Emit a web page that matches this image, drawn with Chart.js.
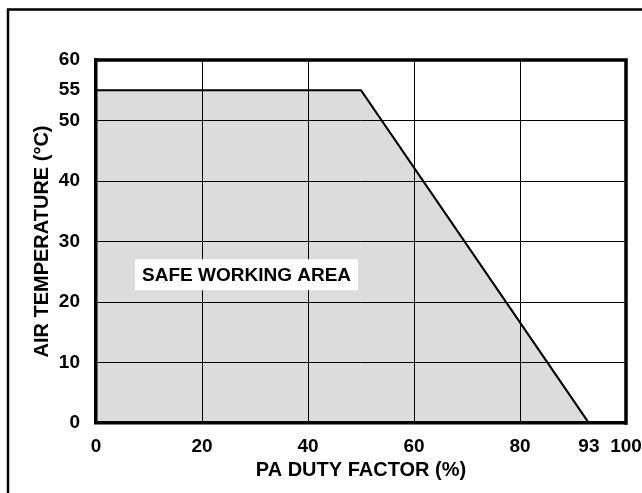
<!DOCTYPE html>
<html>
<head>
<meta charset="utf-8">
<script src="https://cdn.jsdelivr.net/npm/chart.js@4"></script>
<style>
  html, body { margin: 0; padding: 0; background: #fff; }
  #wrap { width: 642px; height: 493px; }
</style>
</head>
<body>
<div id="wrap"><canvas id="soaChart" width="642" height="493"></canvas></div>
<script>
// --- DATA ---
const dutyFactor = [0, 50, 93];          // PA duty factor (%)
const airTemp = [55, 55, 0];             // max air temperature (°C)
const xTicks = [0, 20, 40, 60, 80, 93, 100];
const yTicks = [0, 10, 20, 30, 40, 50, 55, 60];
const areaLabel = 'SAFE WORKING AREA';
const areaLabelAt = [28.4, 24.5];        // x, y in data units

const FONT = '"Liberation Sans", Arial, sans-serif';

// plot box edges, label box and outer frame on top of everything
const framePlugin = {
  id: 'frame',
  afterDraw(chart) {
    const ctx = chart.ctx;
    const xs = chart.scales.x, ys = chart.scales.y;
    const a = chart.chartArea;
    ctx.save();
    // top and right edges of the plot box
    ctx.strokeStyle = '#000';
    ctx.lineWidth = 3.5;
    ctx.beginPath();
    ctx.moveTo(a.left - 1.75, a.top);
    ctx.lineTo(a.right, a.top);
    ctx.lineTo(a.right, a.bottom + 1.75);
    ctx.stroke();
    // label
    ctx.font = 'bold 19px ' + FONT;
    const cx = xs.getPixelForValue(areaLabelAt[0]);
    const cy = ys.getPixelForValue(areaLabelAt[1]);
    const w = ctx.measureText(areaLabel).width + 14;
    ctx.fillStyle = '#fff';
    ctx.fillRect(cx - w / 2, cy - 15.5, w, 31);
    ctx.fillStyle = '#000';
    ctx.textAlign = 'center';
    ctx.textBaseline = 'middle';
    ctx.fillText(areaLabel, cx, cy + 1);
    // outer frame
    ctx.lineWidth = 2.5;
    ctx.strokeRect(8, 9.5, 700, 600);
    ctx.restore();
  }
};

new Chart(document.getElementById('soaChart'), {
  type: 'line',
  data: {
    datasets: [{
      data: dutyFactor.map((x, i) => ({ x: x, y: airTemp[i] })),
      borderColor: '#000',
      borderWidth: 2.2,
      backgroundColor: '#dcdcdc',
      fill: 'origin',
      pointRadius: 0,
      tension: 0
    }]
  },
  options: {
    responsive: false,
    animation: false,
    events: [],
    layout: { padding: { top: 60, right: 16, bottom: 0, left: 0 } },
    plugins: { legend: { display: false }, tooltip: { enabled: false } },
    scales: {
      x: {
        type: 'linear',
        min: 0, max: 100,
        afterBuildTicks: s => { s.ticks = xTicks.map(v => ({ value: v })); },
        afterFit: s => { s.height = 70; s.paddingLeft = 0; s.paddingRight = 0; },
        grid: {
          z: 1,
          color: c => (c.tick && c.tick.value === 93) ? 'rgba(0,0,0,0)' : '#000',
          lineWidth: 1,
          drawTicks: false
        },
        border: { color: '#000', width: 3.5, z: 2 },
        ticks: { color: '#000', font: { family: FONT, size: 19, weight: 'bold' }, padding: 12, maxRotation: 0, autoSkip: false },
        title: {
          display: true, text: 'PA DUTY FACTOR (%)', color: '#000',
          font: { family: FONT, size: 20, weight: 'bold' }, padding: { top: 0, bottom: 11 }
        }
      },
      y: {
        type: 'linear',
        min: 0, max: 60,
        afterBuildTicks: s => { s.ticks = yTicks.map(v => ({ value: v })); },
        afterFit: s => { s.width = 96; s.paddingTop = 0; s.paddingBottom = 0; },
        grid: {
          z: 1,
          color: c => (c.tick && c.tick.value === 55) ? 'rgba(0,0,0,0)' : '#000',
          lineWidth: 1,
          drawTicks: false
        },
        border: { color: '#000', width: 3.5, z: 2 },
        ticks: { color: '#000', font: { family: FONT, size: 19, weight: 'bold' }, padding: 16, autoSkip: false },
        title: {
          display: true, text: 'AIR TEMPERATURE (°C)', color: '#000',
          font: { family: FONT, size: 20, weight: 'bold' }, padding: { top: 30, bottom: 0 }
        }
      }
    }
  },
  plugins: [framePlugin]
});
</script>
</body>
</html>
